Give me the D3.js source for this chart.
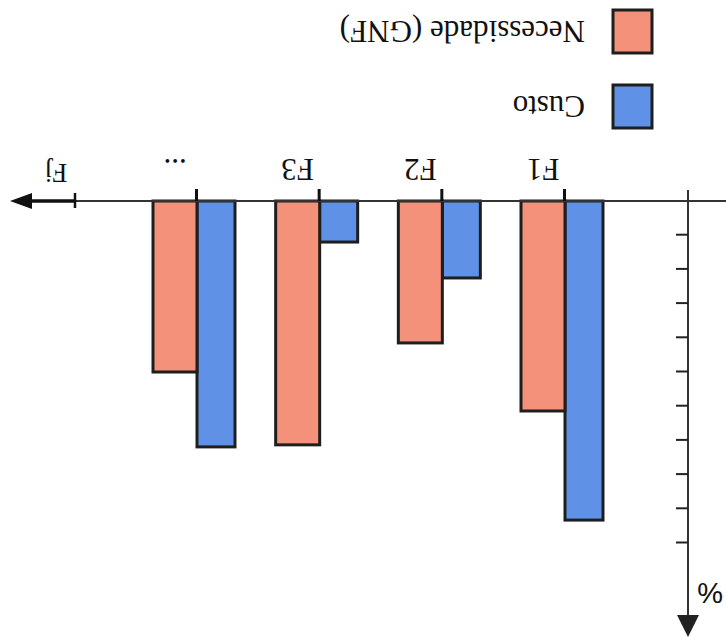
<!DOCTYPE html>
<html>
<head>
<meta charset="utf-8">
<script src="https://cdn.jsdelivr.net/npm/d3@7"></script>
<style>
  body { margin: 0; background: #fff; }
</style>
</head>
<body>
<div id="graph1"></div>
<script>

let width = 726,
    height = 638;

// data (in tick units of the % axis)
let categories = ["F1", "F2", "F3", "..."];
let custo = [9.33, 2.25, 1.2, 7.19];
let necessidade = [6.14, 4.15, 7.13, 5.0];
let yTicks = [1, 2, 3, 4, 5, 6, 7, 8, 9, 10];
let seriesNames = ["Custo", "Necessidade (GNF)"];
let seriesColors = ["#5f92e6", "#f3917b"];
let lastLabel = "Fj";
let axisLabel = "%";

let svg = d3.select("#graph1")
    .append("svg")
    .attr("width", width)
    .attr("height", height);

// the whole figure is printed upside down
let g = svg.append("g")
    .attr("transform", `rotate(180, ${width / 2}, ${height / 2})`);

let x = d3.scalePoint()
    .domain(categories)
    .range([161, 529]);

let y = d3.scaleLinear()
    .domain([0, 10])
    .range([437, 95]);

let blueW = 38,
    redW = 44;

let axisY = 437,
    axisX = 38;

// bars
let custoBars = g.append("g").selectAll("rect").data(categories);
custoBars.enter()
    .append("rect")
    .attr("x", d => x(d) - blueW)
    .attr("y", (d, i) => y(custo[i]))
    .attr("width", blueW)
    .attr("height", (d, i) => y(0) - y(custo[i]))
    .attr("fill", seriesColors[0])
    .attr("stroke", "#1e1e1e")
    .attr("stroke-width", 3);

let needBars = g.append("g").selectAll("rect").data(categories);
needBars.enter()
    .append("rect")
    .attr("x", d => x(d))
    .attr("y", (d, i) => y(necessidade[i]))
    .attr("width", redW)
    .attr("height", (d, i) => y(0) - y(necessidade[i]))
    .attr("fill", seriesColors[1])
    .attr("stroke", "#1e1e1e")
    .attr("stroke-width", 3);

// x axis line with arrow
g.append("line")
    .attr("x1", 0).attr("x2", 700)
    .attr("y1", axisY).attr("y2", axisY)
    .attr("stroke", "#333").attr("stroke-width", 2);
g.append("line")
    .attr("x1", 650).attr("x2", 700)
    .attr("y1", axisY).attr("y2", axisY)
    .attr("stroke", "#111").attr("stroke-width", 3.5);
g.append("path")
    .attr("d", `M716,${axisY} L694,${axisY - 8} L694,${axisY + 8} Z`)
    .attr("fill", "#111");
// "+" tick at Fj
g.append("line")
    .attr("x1", 651).attr("x2", 651)
    .attr("y1", axisY - 7).attr("y2", axisY + 8)
    .attr("stroke", "#111").attr("stroke-width", 2.5);

let xAxis = g.append("g")
    .attr("transform", `translate(0, ${axisY})`)
    .call(d3.axisBottom(x).tickSize(12).tickFormat(""));
xAxis.select(".domain").remove();
xAxis.selectAll("line").attr("stroke", "#111").attr("stroke-width", 3);

// category labels, centred over the red bars
g.append("g").selectAll("text").data(categories).enter()
    .append("text")
    .attr("x", d => x(d) + redW / 2)
    .attr("y", 479)
    .style("text-anchor", "middle")
    .style("font-family", "'Liberation Serif', 'Times New Roman', serif")
    .style("font-size", "31px")
    .style("fill", "#111")
    .text(d => d);

g.append("text")
    .attr("x", 670)
    .attr("y", 474)
    .style("text-anchor", "middle")
    .style("font-family", "'Liberation Serif', 'Times New Roman', serif")
    .style("font-size", "27px")
    .style("fill", "#111")
    .text(lastLabel);

// y axis with arrow
g.append("line")
    .attr("x1", axisX).attr("x2", axisX)
    .attr("y1", 448).attr("y2", 20)
    .attr("stroke", "#333").attr("stroke-width", 2);
g.append("path")
    .attr("d", `M${axisX},1 L${axisX - 11},23 L${axisX + 11},23 Z`)
    .attr("fill", "#222");

let yAxis = g.append("g")
    .attr("transform", `translate(${axisX}, 0)`)
    .call(d3.axisRight(y).tickValues(yTicks).tickSize(12).tickFormat(""));
yAxis.select(".domain").remove();
yAxis.selectAll("line").attr("stroke", "#222").attr("stroke-width", 2);

g.append("text")
    .attr("x", 16)
    .attr("y", 55)
    .style("text-anchor", "middle")
    .style("font-family", "'Liberation Sans', Arial, sans-serif")
    .style("font-size", "29px")
    .style("fill", "#111")
    .text(axisLabel);

// legend
let legendY = [531, 606];
let legend = g.append("g").selectAll("g").data(seriesNames).enter()
    .append("g")
    .attr("transform", (d, i) => `translate(74, ${legendY[i]})`);

legend.append("rect")
    .attr("x", 0)
    .attr("y", -21)
    .attr("width", 39)
    .attr("height", 43)
    .attr("fill", (d, i) => seriesColors[i])
    .attr("stroke", "#1e1e1e")
    .attr("stroke-width", 3);

legend.append("text")
    .attr("x", 67)
    .attr("y", 11)
    .style("font-family", "'Liberation Serif', 'Times New Roman', serif")
    .style("font-size", "31px")
    .style("fill", "#111")
    .text(d => d);

</script>
</body>
</html>
